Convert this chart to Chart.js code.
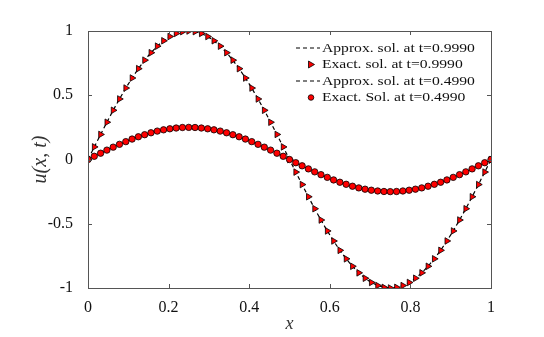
<!DOCTYPE html>
<html>
<head>
<meta charset="utf-8">
<script src="https://cdn.jsdelivr.net/npm/chart.js@4/dist/chart.umd.min.js"></script>
<style>
  html, body { margin: 0; padding: 0; background: #fff; }
  #wrap { width: 544px; height: 337px; }
</style>
</head>
<body>
<div id="wrap"><canvas id="plot"></canvas></div>
<script>
// grid points in x
var xs = [0, 0.0156, 0.0313, 0.0469, 0.0625, 0.0781, 0.0938, 0.1094, 0.125, 0.1406, 0.1563, 0.1719,
  0.1875, 0.2031, 0.2188, 0.2344, 0.25, 0.2656, 0.2813, 0.2969, 0.3125, 0.3281, 0.3438, 0.3594,
  0.375, 0.3906, 0.4063, 0.4219, 0.4375, 0.4531, 0.4688, 0.4844, 0.5, 0.5156, 0.5313, 0.5469,
  0.5625, 0.5781, 0.5938, 0.6094, 0.625, 0.6406, 0.6563, 0.6719, 0.6875, 0.7031, 0.7188, 0.7344,
  0.75, 0.7656, 0.7813, 0.7969, 0.8125, 0.8281, 0.8438, 0.8594, 0.875, 0.8906, 0.9063, 0.9219,
  0.9375, 0.9531, 0.9688, 0.9844, 1];

// solution at t=0.9990
var uExact999 = [0, 0.098, 0.195, 0.290, 0.383, 0.471, 0.556, 0.634, 0.707, 0.773, 0.831, 0.882,
  0.924, 0.957, 0.981, 0.995, 1, 0.995, 0.981, 0.957, 0.924, 0.882, 0.831, 0.773,
  0.707, 0.634, 0.556, 0.471, 0.383, 0.290, 0.195, 0.098, 0, -0.098, -0.195, -0.290,
  -0.383, -0.471, -0.556, -0.634, -0.707, -0.773, -0.831, -0.882, -0.924, -0.957, -0.981, -0.995,
  -1, -0.995, -0.981, -0.957, -0.924, -0.882, -0.831, -0.773, -0.707, -0.634, -0.556, -0.471,
  -0.383, -0.290, -0.195, -0.098, 0];
var uApprox999 = [0, 0.098, 0.195, 0.290, 0.383, 0.471, 0.556, 0.634, 0.707, 0.773, 0.831, 0.882,
  0.924, 0.957, 0.981, 0.995, 1, 0.995, 0.981, 0.957, 0.924, 0.882, 0.831, 0.773,
  0.707, 0.634, 0.556, 0.471, 0.383, 0.290, 0.195, 0.098, 0, -0.098, -0.195, -0.290,
  -0.383, -0.471, -0.556, -0.634, -0.707, -0.773, -0.831, -0.882, -0.924, -0.957, -0.981, -0.995,
  -1, -0.995, -0.981, -0.957, -0.924, -0.882, -0.831, -0.773, -0.707, -0.634, -0.556, -0.471,
  -0.383, -0.290, -0.195, -0.098, 0];

// solution at t=0.4990
var uExact499 = [0, 0.025, 0.049, 0.073, 0.096, 0.118, 0.139, 0.159, 0.177, 0.193, 0.208, 0.221,
  0.231, 0.239, 0.245, 0.249, 0.25, 0.249, 0.245, 0.239, 0.231, 0.221, 0.208, 0.193,
  0.177, 0.159, 0.139, 0.118, 0.096, 0.073, 0.049, 0.025, 0, -0.025, -0.049, -0.073,
  -0.096, -0.118, -0.139, -0.159, -0.177, -0.193, -0.208, -0.221, -0.231, -0.239, -0.245, -0.249,
  -0.25, -0.249, -0.245, -0.239, -0.231, -0.221, -0.208, -0.193, -0.177, -0.159, -0.139, -0.118,
  -0.096, -0.073, -0.049, -0.025, 0];
var uApprox499 = [0, 0.025, 0.049, 0.073, 0.096, 0.118, 0.139, 0.159, 0.177, 0.193, 0.208, 0.221,
  0.231, 0.239, 0.245, 0.249, 0.25, 0.249, 0.245, 0.239, 0.231, 0.221, 0.208, 0.193,
  0.177, 0.159, 0.139, 0.118, 0.096, 0.073, 0.049, 0.025, 0, -0.025, -0.049, -0.073,
  -0.096, -0.118, -0.139, -0.159, -0.177, -0.193, -0.208, -0.221, -0.231, -0.239, -0.245, -0.249,
  -0.25, -0.249, -0.245, -0.239, -0.231, -0.221, -0.208, -0.193, -0.177, -0.159, -0.139, -0.118,
  -0.096, -0.073, -0.049, -0.025, 0];

var xTicks = [0, 0.2, 0.4, 0.6, 0.8, 1];
var yTicks = [-1, -0.5, 0, 0.5, 1];
var seriesNames = ["Approx. sol. at t=0.9990", "Exact. sol. at t=0.9990",
  "Approx. sol. at t=0.4990", "Exact. Sol. at t=0.4990"];

function pts(x, y) {
  return x.map(function (v, i) { return { x: v, y: y[i] }; });
}

var serif = "'Liberation Serif', 'DejaVu Serif', serif";
var frameColor = "#555";
var red = "#f00";

// box, inside ticks and legend
var decor = {
  id: "decor",
  afterDatasetsDraw: function (chart) {
    var ctx = chart.ctx, a = chart.chartArea;
    var sx = chart.scales.x, sy = chart.scales.y;
    ctx.save();
    ctx.strokeStyle = frameColor;
    ctx.lineWidth = 1;
    ctx.strokeRect(Math.round(a.left) + 0.5, Math.round(a.top) + 0.5,
      Math.round(a.right - a.left), Math.round(a.bottom - a.top));
    ctx.beginPath();
    xTicks.forEach(function (t) {
      var p = Math.round(sx.getPixelForValue(t)) + 0.5;
      ctx.moveTo(p, a.bottom); ctx.lineTo(p, a.bottom - 4);
      ctx.moveTo(p, a.top); ctx.lineTo(p, a.top + 4);
    });
    yTicks.forEach(function (t) {
      var p = Math.round(sy.getPixelForValue(t)) + 0.5;
      ctx.moveTo(a.left, p); ctx.lineTo(a.left + 4, p);
      ctx.moveTo(a.right, p); ctx.lineTo(a.right - 4, p);
    });
    ctx.stroke();

    // legend
    var lx = 322, ly = 48, step = 16.5, sx0 = 311;
    ctx.textBaseline = "middle";
    chart.data.datasets.forEach(function (ds, i) {
      var y = ly + i * step;
      if (ds.showLine) {
        ctx.strokeStyle = "#000";
        ctx.lineWidth = 1.2;
        ctx.setLineDash([4, 3]);
        ctx.beginPath();
        ctx.moveTo(296, y); ctx.lineTo(320, y);
        ctx.stroke();
        ctx.setLineDash([]);
      } else {
        ctx.fillStyle = red;
        ctx.strokeStyle = "#000";
        ctx.lineWidth = 0.8;
        ctx.beginPath();
        if (ds.pointStyle === "triangle") {
          ctx.moveTo(sx0 + 3.5, y); ctx.lineTo(sx0 - 2.5, y - 3.5); ctx.lineTo(sx0 - 2.5, y + 3.5);
          ctx.closePath();
        } else {
          ctx.arc(sx0, y, 2.8, 0, Math.PI * 2);
        }
        ctx.fill(); ctx.stroke();
      }
      ctx.save();
      ctx.translate(lx, y + 0.5);
      ctx.scale(1.25, 1);
      ctx.font = "12.5px " + serif;
      ctx.fillStyle = "#111";
      ctx.fillText(ds.label, 0, 0);
      ctx.restore();
    });
    ctx.restore();
  }
};

new Chart(document.getElementById("plot").getContext("2d"), {
  type: "scatter",
  data: {
    datasets: [
      {
        label: seriesNames[0], data: pts(xs, uApprox999), showLine: true,
        borderColor: "#000", borderWidth: 1.2, borderDash: [4, 3], pointRadius: 0, order: 4
      },
      {
        label: seriesNames[1], data: pts(xs, uExact999), showLine: false,
        pointStyle: "triangle", rotation: 90, pointRadius: 3.8,
        backgroundColor: red, borderColor: "#000", borderWidth: 0.8, order: 3
      },
      {
        label: seriesNames[2], data: pts(xs, uApprox499), showLine: true,
        borderColor: "#000", borderWidth: 1.2, borderDash: [4, 3], pointRadius: 0, order: 2
      },
      {
        label: seriesNames[3], data: pts(xs, uExact499), showLine: false,
        pointStyle: "circle", pointRadius: 3.2,
        backgroundColor: red, borderColor: "#000", borderWidth: 0.8, order: 1
      }
    ]
  },
  options: {
    responsive: true,
    maintainAspectRatio: false,
    animation: false,
    layout: { padding: { left: 0, top: 31, right: 53, bottom: 0 } },
    plugins: { legend: { display: false }, tooltip: { enabled: false } },
    scales: {
      x: {
        type: "linear", min: 0, max: 1,
        afterBuildTicks: function (s) { s.ticks = xTicks.map(function (v) { return { value: v }; }); },
        afterFit: function (s) { s.height = 49; },
        grid: { display: false },
        border: { display: false },
        ticks: {
          color: "#111", padding: 2, maxRotation: 0,
          font: { family: serif, size: 16 },
          callback: function (v) { return String(v); }
        },
        title: {
          display: true, text: "x", color: "#333",
          font: { family: serif, size: 18, style: "italic" },
          padding: { top: 0, bottom: 2 }
        }
      },
      y: {
        type: "linear", min: -1, max: 1,
        afterBuildTicks: function (s) { s.ticks = yTicks.map(function (v) { return { value: v }; }); },
        afterFit: function (s) { s.width = 88; },
        grid: { display: false },
        border: { display: false },
        ticks: {
          color: "#111", padding: 7,
          font: { family: serif, size: 16 },
          callback: function (v) { return String(v); }
        },
        title: {
          display: true, text: "u(x, t)", color: "#333",
          font: { family: serif, size: 20, style: "italic" },
          padding: { top: 29, bottom: 0 }
        }
      }
    }
  },
  plugins: [decor]
});
</script>
</body>
</html>
